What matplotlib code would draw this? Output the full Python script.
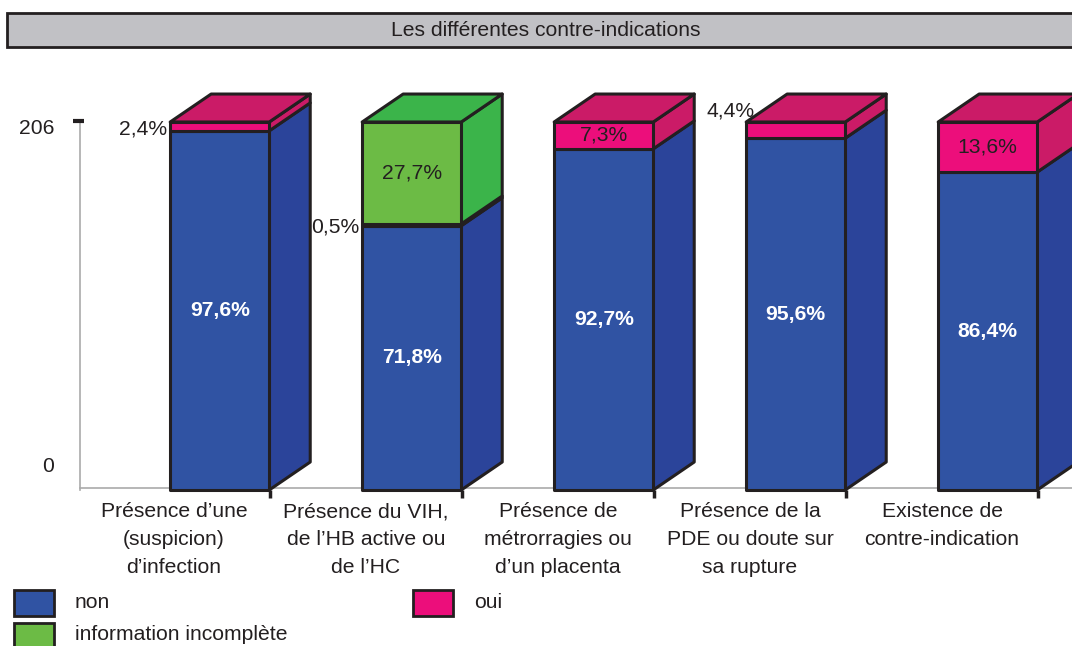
import matplotlib
matplotlib.use('Agg')
import matplotlib.pyplot as plt
from matplotlib.patches import Polygon, Rectangle

plt.rcParams['font.family'] = ['Liberation Sans', 'DejaVu Sans']

# data (percent of n = 206)
title = "Les différentes contre-indications"
categories = ["Présence d’une\n(suspicion)\nd’infection",
              "Présence du VIH,\nde l’HB active ou\nde l’HC",
              "Présence de\nmétrorragies ou\nd’un placenta",
              "Présence de la\nPDE ou doute sur\nsa rupture",
              "Existence de\ncontre-indication"]
non = [97.6, 71.8, 92.7, 95.6, 86.4]
oui = [2.4, 0.5, 7.3, 4.4, 13.6]
info = [0.0, 27.7, 0.0, 0.0, 0.0]
total_n = 206
yticks = [0, total_n]

# styles
edge = '#231F20'
front = {'non': '#3053A3', 'oui': '#EC0E7B', 'info': '#6CBB45'}
side = {'non': '#2B449A', 'oui': '#CB1B67', 'info': '#3BB44A'}
names = {'non': 'non', 'oui': 'oui', 'info': 'information incomplète'}
fs = 15.2

W, H = 1072, 646
fig = plt.figure(figsize=(W / 100, H / 100), dpi=100)
ax = fig.add_axes([0, 0, 1, 1])
# 1 category = 192 px, 1 % = 3.68 px
ax.set_xlim(-174 / 192, (W - 174) / 192)
ax.set_ylim(-(H - 490) / 3.68, 490 / 3.68)
ax.axis('off')

bar_off = -0.02      # front face left edge relative to category position
bar_w = 0.516
dx, dy = 0.2135, 7.6  # depth of the 3d boxes
lw = 2.2

# axis lines
ax.plot([-0.49, -0.49], [0, 100], color='#AAAAAA', lw=1.2, zorder=1)
ax.plot([-0.49, 5.0], [0.5, 0.5], color='#AAAAAA', lw=1.2, zorder=1)
ax.plot([-0.525, -0.47], [100.3, 100.3], color=edge, lw=3, zorder=2, solid_capstyle='butt')
for t in yticks:
    ypos = 98.3 if t else 6.3
    ax.text(-0.625, ypos, str(t), ha='right', va='center', fontsize=fs, color=edge)

for i in range(len(categories)):
    x0 = i + bar_off
    x1 = x0 + bar_w
    segs = [('non', non[i]), ('oui', oui[i]), ('info', info[i])]
    segs = [(k, v) for k, v in segs if v > 0]
    base = 0.0
    for j, (k, v) in enumerate(segs):
        y0, y1 = base, base + v
        z = 3 + j
        ax.add_patch(Polygon([(x1, y0), (x1 + dx, y0 + dy), (x1 + dx, y1 + dy), (x1, y1)],
                             closed=True, fc=side[k], ec=edge, lw=lw, zorder=z, joinstyle='round'))
        ax.add_patch(Rectangle((x0, y0), bar_w, v, fc=front[k], ec=edge, lw=lw, zorder=z + 0.5,
                               joinstyle='round'))
        if j == len(segs) - 1:
            ax.add_patch(Polygon([(x0, y1), (x0 + dx, y1 + dy), (x1 + dx, y1 + dy), (x1, y1)],
                                 closed=True, fc=side[k], ec=edge, lw=lw, zorder=z, joinstyle='round'))
        lab = f"{v:.1f}%".replace('.', ',')
        cx, cy = x0 + bar_w / 2, (y0 + y1) / 2
        if k == 'non':
            ax.text(cx, cy, lab, ha='center', va='center', color='white', fontsize=fs,
                    fontweight='bold', zorder=10)
        elif v >= 5:
            ax.text(cx, cy, lab, ha='center', va='center', color=edge, fontsize=fs, zorder=10)
        elif i == 3:
            ax.text(x0 + 0.045, y1 + 3.0, lab, ha='right', va='center', color=edge,
                    fontsize=fs, zorder=10)
        else:
            ax.text(x0 - 0.015, cy - 0.6, lab, ha='right', va='center', color=edge,
                    fontsize=fs, zorder=10)
        base = y1
    # category separator tick
    ax.plot([i + 0.5, i + 0.5], [0, -2.2], color=edge, lw=2.5, zorder=2, solid_capstyle='butt')
    ax.text(i, -3.3, categories[i], ha='center', va='top', fontsize=fs, color=edge,
            linespacing=1.6)


def px(x, y):
    return x / W, 1 - y / H


# title box
bx, by = px(7, 47)
fig.patches.append(Rectangle((bx, by), 1.05, 34 / H, transform=fig.transFigure,
                             fc='#C1C1C5', ec=edge, lw=2))
fig.text(*px(546, 31), title, ha='center', va='center', fontsize=fs, color=edge)

# legend
for key, (lx, ly) in [('non', (14, 590)), ('oui', (413, 590)), ('info', (14, 623))]:
    rx, ry = px(lx, ly + 26)
    fig.patches.append(Rectangle((rx, ry), 40 / W, 26 / H, transform=fig.transFigure,
                                 fc=front[key], ec=edge, lw=2))
    fig.text(*px(lx + 61, ly + 12), names[key], ha='left', va='center', fontsize=fs,
             color=edge)

fig.savefig('out.png', dpi=100)
